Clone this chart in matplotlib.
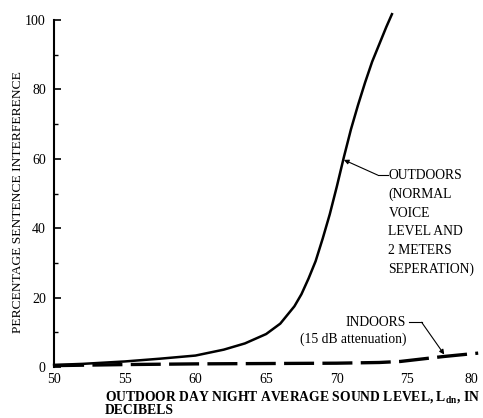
import matplotlib
matplotlib.use("Agg")
import matplotlib.pyplot as plt
from matplotlib.ticker import MultipleLocator

plt.rcParams["font.family"] = "Liberation Serif"
plt.rcParams["mathtext.fontset"] = "custom"
plt.rcParams["mathtext.rm"] = "Liberation Serif"
plt.rcParams["mathtext.bf"] = "Liberation Serif:bold"

# Outdoors (normal voice, 2 m separation)
outdoor_db = [50, 52, 55, 57.5, 60, 62, 63.5, 65, 66, 67, 67.5, 68, 68.5, 69,
              69.5, 70, 70.5, 71, 71.5, 72, 72.5, 73, 73.5, 73.9]
outdoor_pct = [0.6, 0.9, 1.6, 2.4, 3.3, 5.0, 6.8, 9.5, 12.5, 17.5, 21, 25.5,
               30.5, 37, 44, 52, 60.5, 68.5, 75.5, 82, 88, 93, 98, 101.7]

# Indoors (15 dB attenuation)
indoor_db = [50, 55, 60, 65, 70, 73, 74.5, 76, 77.5, 79, 80]
indoor_pct = [0.4, 0.7, 0.9, 1.0, 1.1, 1.3, 1.6, 2.3, 3.0, 3.6, 4.0]

x_ticks = [50, 55, 60, 65, 70, 75, 80]
y_ticks = [0, 20, 40, 60, 80, 100]

fig = plt.figure(figsize=(4.83, 4.18), dpi=100)
ax = fig.add_axes([0.112, 0.122, 0.878, 0.830])

ax.plot(outdoor_db, outdoor_pct, color="black", lw=1.8, clip_on=False)
ax.plot(indoor_db, indoor_pct, color="black", lw=2.4, dashes=(9, 2.5),
        clip_on=False)

ax.set_xlim(50, 80)
ax.set_ylim(0, 100)
ax.set_xticks(x_ticks)
ax.set_yticks(y_ticks)
ax.yaxis.set_minor_locator(MultipleLocator(10))
ax.tick_params(axis="y", which="major", direction="in", length=5, width=1.2,
               labelsize=10, pad=6)
ax.tick_params(axis="y", which="minor", direction="in", length=3, width=1)
ax.tick_params(axis="x", length=0, labelsize=10, pad=4)
ax.get_xticklabels()[-1].set_ha("right")
for side in ("top", "right", "bottom"):
    ax.spines[side].set_visible(False)
ax.spines["left"].set_linewidth(1.5)

fig.text(18 / 483, 1 - 202 / 418, "PERCENTAGE SENTENCE INTERFERENCE",
         fontsize=9.7, rotation=90, ha="center", va="center")

fig.text(105 / 483, 1 - 397 / 418,
         "OUTDOOR DAY NIGHT AVERAGE SOUND LEVEL, L$_{\\mathbf{dn}}$, IN",
         fontsize=9.8, fontweight="bold", ha="left", va="center")
fig.text(105 / 483, 1 - 411 / 418, "DECIBELS",
         fontsize=9.8, fontweight="bold", ha="left", va="center")

# Outdoors callout
ax.text(73.65, 57.0, "OUTDOORS\n(NORMAL\nVOICE\nLEVEL AND\n2 METERS\nSEPERATION)",
        fontsize=9.8, ha="left", va="top", linespacing=1.55)
ax.plot([72.9, 73.6], [55.3, 55.3], color="black", lw=0.8, clip_on=False)
ax.annotate("", xy=(70.5, 59.7), xytext=(72.9, 55.3),
            arrowprops=dict(arrowstyle="-|>", color="black", lw=0.8,
                            mutation_scale=7, shrinkA=0, shrinkB=0))

# Indoors callout
ax.text(74.9, 12.7, "INDOORS", fontsize=9.8, ha="right", va="center")
ax.text(74.9, 8.0, "(15 dB attenuation)", fontsize=9.8, ha="right",
        va="center")
ax.plot([75.1, 76.0], [12.9, 12.9], color="black", lw=0.8)
ax.annotate("", xy=(77.6, 3.6), xytext=(76.0, 12.9),
            arrowprops=dict(arrowstyle="-|>", color="black", lw=0.8,
                            mutation_scale=7, shrinkA=0, shrinkB=0))

fig.savefig("out.png", dpi=100)
